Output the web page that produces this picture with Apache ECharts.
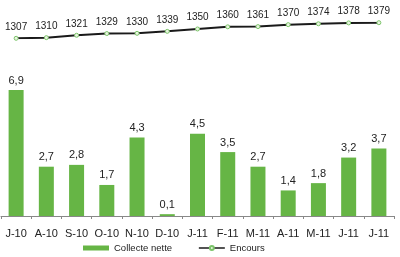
<!DOCTYPE html>
<html><head><meta charset="utf-8">
<script src="https://cdn.jsdelivr.net/npm/echarts@6/dist/echarts.min.js"></script>
<style>html,body{margin:0;padding:0;background:#fff}#c{width:400px;height:257px}</style>
</head><body><div id="c"></div>
<script>
const categories = ["J-10","A-10","S-10","O-10","N-10","D-10","J-11","F-11","M-11","A-11","M-11","J-11","J-11"];
const collecte = [6.9,2.7,2.8,1.7,4.3,0.1,4.5,3.5,2.7,1.4,1.8,3.2,3.7];
const encours = [1307,1310,1321,1329,1330,1339,1350,1360,1361,1370,1374,1378,1379];

const chart = echarts.init(document.getElementById('c'));
const font = 'Liberation Sans, Arial, sans-serif';
chart.setOption({
  animation: false,
  grid: [
    {left: 1, right: 6, top: 90, bottom: 41, containLabel: false},
    {left: 1, right: 6, top: 22.7, height: 15.6, containLabel: false}
  ],
  legend: {
    top: 243, left: 83, padding: 0, itemGap: 26, itemWidth: 26, itemHeight: 5,
    textStyle: {fontFamily: font, fontSize: 9.5, color: '#222'},
    data: [
      {name: 'Collecte nette', icon: 'rect'},
      {name: 'Encours', lineStyle: {width: 1.5}}
    ]
  },
  xAxis: [
    {type: 'category', gridIndex: 0, data: categories,
     axisLine: {lineStyle: {color: '#888'}},
     axisTick: {show: true, length: 3, lineStyle: {color: '#888'}},
     axisLabel: {fontFamily: font, fontSize: 11, color: '#222', margin: 12, interval: 0}},
    {type: 'category', gridIndex: 1, data: categories, show: false}
  ],
  yAxis: [
    {type: 'value', gridIndex: 0, min: 0, max: 6.9, show: false, splitLine: {show: false}},
    {type: 'value', gridIndex: 1, min: 1307, max: 1379, show: false, splitLine: {show: false}}
  ],
  series: [
    {name: 'Collecte nette', type: 'bar', data: collecte, xAxisIndex: 0, yAxisIndex: 0,
     barWidth: 15, itemStyle: {color: '#66b545'},
     label: {show: true, position: 'top', distance: 4, fontFamily: font, fontSize: 11, color: '#222',
       formatter: p => String(p.value).replace('.', ',')}},
    {name: 'Encours', type: 'line', data: encours, xAxisIndex: 1, yAxisIndex: 1,
     lineStyle: {color: '#1a1a1a', width: 2}, itemStyle: {color: '#e8f5e0', borderColor: '#7cc46a', borderWidth: 1},
     symbol: 'circle', symbolSize: 4, showAllSymbol: true,
     label: {show: true, position: 'top', distance: 4, fontFamily: font, fontSize: 10, color: '#222'}}
  ]
});
</script></body></html>
